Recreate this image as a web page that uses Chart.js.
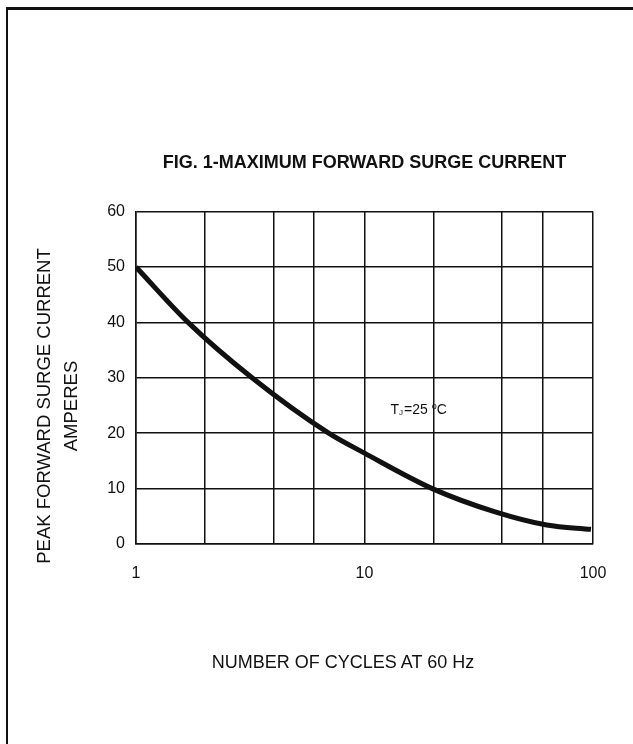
<!DOCTYPE html>
<html>
<head>
<meta charset="utf-8">
<script src="https://cdn.jsdelivr.net/npm/chart.js@4.4.1/dist/chart.umd.min.js"></script>
<style>
    html, body { margin: 0; padding: 0; background: #fff; }
    body { width: 633px; height: 744px; position: relative; overflow: hidden; font-family: "Liberation Sans", Arial, sans-serif; color: #111; }
    #frame { position: absolute; left: 6px; top: 7px; width: 700px; height: 800px; border-top: 3px solid #111; border-left: 2px solid #111; }
    #wrap { position: absolute; left: 0; top: 0; width: 633px; height: 744px; }
    .axis-title { position: absolute; font-size: 18px; white-space: nowrap; text-align: center; }
    #y-title { left: 57px; top: 406px; width: 400px; line-height: 27px; font-size: 18.5px; transform: translate(-50%, -50%) rotate(-90deg); }
    #x-title { left: 343px; top: 662px; transform: translate(-50%, -50%); }
</style>
</head>
<body>
<div id="frame"></div>
<div id="wrap"><canvas id="surge-chart" width="633" height="744"></canvas></div>
<div id="y-title" class="axis-title">PEAK FORWARD SURGE CURRENT<br>AMPERES</div>
<div id="x-title" class="axis-title">NUMBER OF CYCLES AT 60 Hz</div>
<script>
// Curve (cycles vs amperes), mostly grid crossings
const cycles = [1, 1.69, 3.22, 6.97, 10, 19.8, 37.3, 62.7, 98];
const amperes = [50, 40, 30, 20, 16.4, 10, 5.8, 3.43, 2.65];

// Axis ticks
const xGridTicks = [1, 2, 4, 6, 10, 20, 40, 60, 100];
const xLabelTicks = [1, 10, 100];
const yTicks = [0, 10, 20, 30, 40, 50, 60];

// Annotation anchor (data coords)
const noteX = 13;
const noteY = 24.2;

const FONT = '"Liberation Sans", Arial, sans-serif';

// draws T_J=25 °C on the canvas
const notePlugin = {
    id: 'tjNote',
    afterDraw(chart) {
        const ctx = chart.ctx;
        const x = chart.scales.x.getPixelForValue(noteX);
        const y = chart.scales.y.getPixelForValue(noteY);
        ctx.save();
        ctx.fillStyle = '#111';
        ctx.textBaseline = 'middle';
        ctx.textAlign = 'left';
        ctx.font = '14px ' + FONT;
        ctx.fillText('T', x, y);
        let w = ctx.measureText('T').width;
        ctx.font = '8px ' + FONT;
        ctx.fillText('J', x + w, y + 3);
        w += ctx.measureText('J').width + 1;
        ctx.font = '14px ' + FONT;
        ctx.fillText('=25 ', x + w, y);
        w += ctx.measureText('=25 ').width;
        ctx.font = '9px ' + FONT;
        ctx.fillText('o', x + w, y - 3);
        w += ctx.measureText('o').width;
        ctx.font = '14px ' + FONT;
        ctx.fillText('C', x + w, y);
        ctx.restore();
    }
};

const ctx = document.getElementById('surge-chart');
new Chart(ctx, {
    type: 'line',
    data: {
        datasets: [{
            data: cycles.map((c, i) => ({ x: c, y: amperes[i] })),
            borderColor: '#111',
            borderWidth: 5,
            pointRadius: 0,
            cubicInterpolationMode: 'monotone',
            fill: false
        }]
    },
    options: {
        responsive: false,
        animation: false,
        layout: { padding: { left: 0, top: 152, right: 40, bottom: 160 } },
        plugins: {
            legend: { display: false },
            tooltip: { enabled: false },
            title: {
                display: true,
                fullSize: false,
                text: 'FIG. 1-MAXIMUM FORWARD SURGE CURRENT',
                color: '#111',
                font: { family: FONT, size: 18, weight: 'bold' },
                padding: { top: 0, bottom: 38 }
            }
        },
        scales: {
            x: {
                type: 'logarithmic',
                min: 1,
                max: 100,
                afterBuildTicks: scale => { scale.ticks = xGridTicks.map(v => ({ value: v })); },
                afterFit: scale => { scale.height = 40; },
                grid: { color: '#111', lineWidth: 1.5, drawTicks: false },
                border: { color: '#111', width: 1.5 },
                ticks: {
                    autoSkip: false,
                    maxRotation: 0,
                    padding: 20,
                    color: '#111',
                    font: { family: FONT, size: 16 },
                    callback: v => xLabelTicks.includes(v) ? String(v) : ''
                }
            },
            y: {
                min: 0,
                max: 60,
                afterBuildTicks: scale => { scale.ticks = yTicks.map(v => ({ value: v })); },
                afterFit: scale => { scale.width = 136; },
                grid: { color: '#111', lineWidth: 1.5, drawTicks: false },
                border: { color: '#111', width: 1.5 },
                ticks: {
                    padding: 11,
                    color: '#111',
                    font: { family: FONT, size: 16 }
                }
            }
        }
    },
    plugins: [notePlugin]
});
</script>
</body>
</html>
